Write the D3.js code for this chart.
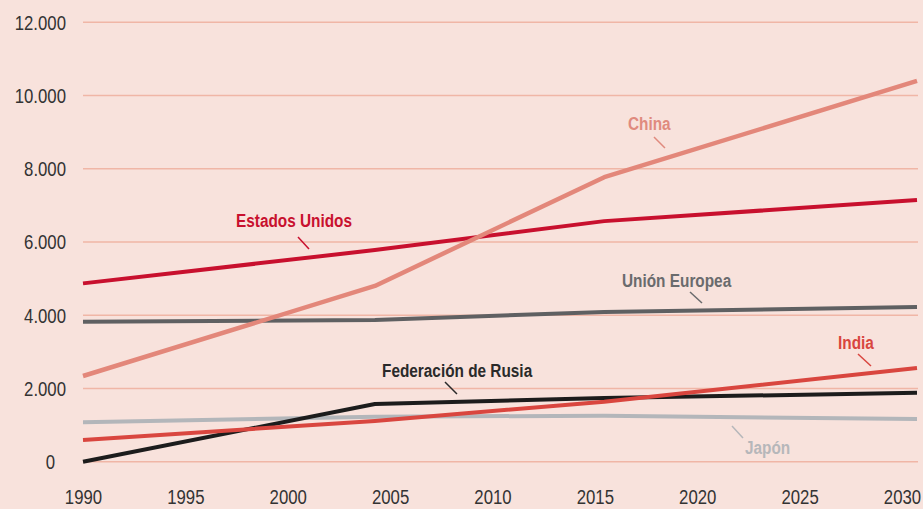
<!DOCTYPE html>
<html>
<head>
<meta charset="utf-8">
<script src="https://cdn.jsdelivr.net/npm/d3@7"></script>
<style>
  html, body { margin: 0; padding: 0; background: #f8e2dc; }
  svg { display: block; }
  text { font-family: "Liberation Sans", Arial, sans-serif; }
</style>
</head>
<body>
<svg id="chart" width="923" height="509"></svg>
<script>
// ---- data (Mt CO2) ----
const years = [1990, 2004, 2015, 2030];
const china = [2340, 4800, 7770, 10400];
const estadosUnidos = [4870, 5780, 6570, 7145];
const unionEuropea = [3823, 3870, 4090, 4225];
const india = [592, 1112, 1640, 2560];
const rusia = [0, 1575, 1740, 1880];
const japon = [1075, 1230, 1255, 1165];

const yTicks = [0, 2000, 4000, 6000, 8000, 10000, 12000];
const xTicks = [1990, 1995, 2000, 2005, 2010, 2015, 2020, 2025, 2030];

const seriesNames = ["Japón", "Federación de Rusia", "India", "Unión Europea", "Estados Unidos", "China"];
const seriesValues = [japon, rusia, india, unionEuropea, estadosUnidos, china];

// ---- styling / layout ----
const lineColors = {
  "China": "#e3877a",
  "Estados Unidos": "#c8102e",
  "Unión Europea": "#5f6062",
  "India": "#d9463f",
  "Federación de Rusia": "#1c1c1c",
  "Japón": "#b3b6ba"
};
const labelColors = {
  "China": "#e08a7e",
  "Estados Unidos": "#c8102e",
  "Unión Europea": "#6a6b6d",
  "India": "#d9463f",
  "Federación de Rusia": "#2a2a2a",
  "Japón": "#b6b7ba"
};
const labelLayout = {
  "China": {x: 628, y: 130, l: [654, 137, 665, 148]},
  "Estados Unidos": {x: 236, y: 227, l: [298, 237, 309, 249]},
  "Unión Europea": {x: 622, y: 287, l: [690, 292, 702, 303]},
  "Federación de Rusia": {x: 382, y: 377, l: [445, 382, 457, 394]},
  "India": {x: 838, y: 349, l: [858, 354, 871, 366]},
  "Japón": {x: 745, y: 454, l: [732, 426, 743, 438]}
};
const tickSX = 0.86;   // horizontal condensing of tick text
const labelSX = 0.83;  // horizontal condensing of series labels

const svg = d3.select("#chart");
svg.append("rect").attr("width", 923).attr("height", 509).attr("fill", "#f8e2dc");

const x = d3.scaleLinear().domain([1990, 2030]).range([83, 917]);
const xLabel = d3.scaleLinear().domain([1990, 2030]).range([83, 902]);
const y = d3.scaleLinear().domain([0, 12000]).range([461.7, 22.3]);

// gridlines
svg.append("g").selectAll("line").data(yTicks).join("line")
  .attr("x1", 83).attr("x2", 918)
  .attr("y1", d => y(d)).attr("y2", d => y(d))
  .attr("stroke", "#f0b6a6").attr("stroke-width", 1.5);

// y axis labels
const fmt = d => d3.format(",")(d).replace(/,/g, ".");
const yAxis = d3.axisLeft(y).tickValues(yTicks).tickFormat(fmt).tickSize(0).tickPadding(0);
const gy = svg.append("g").attr("transform", "translate(66,0)").call(yAxis);
gy.select(".domain").remove();
gy.selectAll("text")
  .attr("fill", "#333").attr("font-size", 19.5)
  .style("font-family", '"Liberation Sans", Arial, sans-serif')
  .attr("dy", "0.35em")
  .attr("x", d => d === 0 ? -11 / tickSX : 0)
  .attr("transform", `scale(${tickSX},1)`);

// x axis labels
const xAxis = d3.axisBottom(xLabel).tickValues(xTicks).tickFormat(d3.format("d")).tickSize(0).tickPadding(0);
const gx = svg.append("g").attr("transform", "translate(0,497)").call(xAxis);
gx.select(".domain").remove();
gx.selectAll("text")
  .attr("fill", "#333").attr("font-size", 19.5)
  .style("font-family", '"Liberation Sans", Arial, sans-serif')
  .attr("dy", "0.35em")
  .attr("transform", `scale(${tickSX},1)`);

// lines
const line = d3.line().x((d, i) => x(years[i])).y(d => y(d));
seriesNames.forEach((name, k) => {
  svg.append("path")
    .datum(seriesValues[k])
    .attr("d", line)
    .attr("fill", "none")
    .attr("stroke", lineColors[name])
    .attr("stroke-width", name === "China" ? 4.5 : 4)
    .attr("stroke-linejoin", "round");
});

// labels
seriesNames.forEach(name => {
  const L = labelLayout[name];
  svg.append("line")
    .attr("x1", L.l[0]).attr("y1", L.l[1]).attr("x2", L.l[2]).attr("y2", L.l[3])
    .attr("stroke", labelColors[name]).attr("stroke-width", 1.5);
  svg.append("g")
    .attr("transform", `translate(${L.x},${L.y}) scale(${labelSX},1)`)
    .append("text")
    .attr("x", 0).attr("y", 0)
    .attr("fill", labelColors[name])
    .attr("font-size", 18.5)
    .attr("font-weight", "bold")
    .text(name);
});
</script>
</body>
</html>
